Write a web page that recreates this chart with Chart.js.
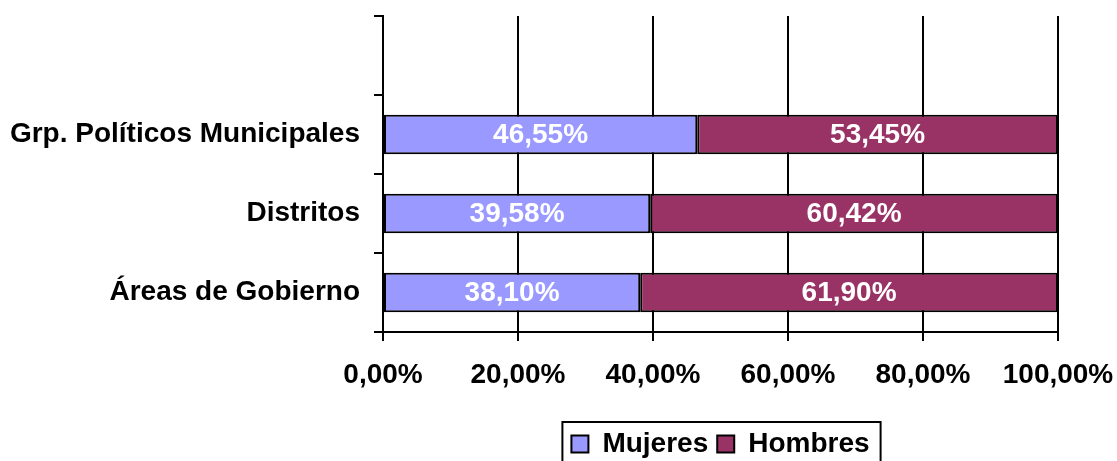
<!DOCTYPE html>
<html>
<head>
<meta charset="utf-8">
<script src="https://cdn.jsdelivr.net/npm/chart.js@4/dist/chart.umd.min.js"></script>
<style>
  html, body { margin: 0; padding: 0; background: #ffffff; }
  #wrap { width: 1117px; height: 461px; position: relative; }
</style>
</head>
<body>
<div id="wrap"><canvas id="c" width="1117" height="461"></canvas></div>
<script>
// ---- data ----
const categories = ['', 'Grp. Políticos Municipales', 'Distritos', 'Áreas de Gobierno'];
const mujeres = [null, 46.55, 39.58, 38.10];
const hombres = [null, 53.45, 60.42, 61.90];
const seriesNames = ['Mujeres', 'Hombres'];
const xTicksMin = 0, xTicksMax = 100, xTicksStep = 20;

const FONT = "'Liberation Sans', Arial, sans-serif";
const FS = 28;
const fmt = v => v.toFixed(2).replace('.', ',') + '%';

const dataLabels = {
  id: 'dataLabels',
  afterDatasetsDraw(chart) {
    const ctx = chart.ctx;
    ctx.save();
    ctx.font = 'bold ' + FS + 'px ' + FONT;
    ctx.fillStyle = '#ffffff';
    ctx.textAlign = 'center';
    ctx.textBaseline = 'middle';
    chart.data.datasets.forEach((ds, di) => {
      const meta = chart.getDatasetMeta(di);
      meta.data.forEach((el, i) => {
        const v = ds.data[i];
        if (v === null || v === undefined) return;
        const p = el.getProps(['x', 'y', 'base'], true);
        ctx.fillText(fmt(v), (p.x + p.base) / 2, p.y + 1);
      });
    });
    ctx.restore();
  }
};

const legendBox = {
  id: 'legendBox',
  afterDraw(chart) {
    const lg = chart.legend;
    if (!lg || !lg.legendHitBoxes || !lg.legendHitBoxes.length) return;
    const hb = lg.legendHitBoxes;
    let l = Infinity, r = -Infinity;
    hb.forEach(b => { l = Math.min(l, b.left); r = Math.max(r, b.left + b.width); });
    const ctx = chart.ctx;
    ctx.save();
    ctx.strokeStyle = '#000000';
    ctx.lineWidth = 2;
    ctx.strokeRect(l - 9, lg.top + 1, (r - l) + 20, lg.height + 10);
    ctx.restore();
  }
};

new Chart(document.getElementById('c'), {
  type: 'bar',
  data: {
    labels: categories,
    datasets: [
      { label: seriesNames[0], data: mujeres, backgroundColor: '#9999FF', borderColor: '#000000', borderWidth: 2, borderSkipped: false, barPercentage: 0.5, categoryPercentage: 1.0 },
      { label: seriesNames[1], data: hombres, backgroundColor: '#993366', borderColor: '#000000', borderWidth: 2, borderSkipped: false, barPercentage: 0.5, categoryPercentage: 1.0 }
    ]
  },
  options: {
    indexAxis: 'y',
    responsive: false,
    animation: false,
    devicePixelRatio: 1,
    layout: { padding: { left: 0, right: 59, top: 16, bottom: 0 } },
    scales: {
      x: {
        stacked: true,
        min: xTicksMin, max: xTicksMax,
        ticks: { stepSize: xTicksStep, color: '#000000', font: { family: FONT, size: FS, weight: 'bold' }, padding: 17, callback: v => fmt(v), maxRotation: 0 },
        grid: { color: '#000000', lineWidth: 2, drawOnChartArea: true, drawTicks: true, tickLength: 9 },
        border: { display: true, color: '#000000', width: 2 },
        afterFit(s) { s.height = 89; s.paddingLeft = 0; s.paddingRight = 0; s.paddingTop = 0; s.paddingBottom = 0; }
      },
      y: {
        stacked: true,
        ticks: { color: '#000000', font: { family: FONT, size: FS, weight: 'bold' }, padding: 14 },
        grid: { offset: true, color: '#000000', lineWidth: 2, drawOnChartArea: false, drawTicks: true, tickLength: 9 },
        border: { display: true, color: '#000000', width: 2 },
        afterFit(s) { s.width = 383; s.paddingLeft = 0; s.paddingRight = 0; s.paddingTop = 0; s.paddingBottom = 0; }
      }
    },
    plugins: {
      legend: {
        position: 'bottom',
        fullSize: false,
        maxHeight: 40,
        labels: { color: '#000000', font: { family: FONT, size: FS, weight: 'bold' }, boxWidth: 17, boxHeight: 17, padding: 9 }
      },
      tooltip: { enabled: false }
    }
  },
  plugins: [dataLabels, legendBox]
});
</script>
</body>
</html>
